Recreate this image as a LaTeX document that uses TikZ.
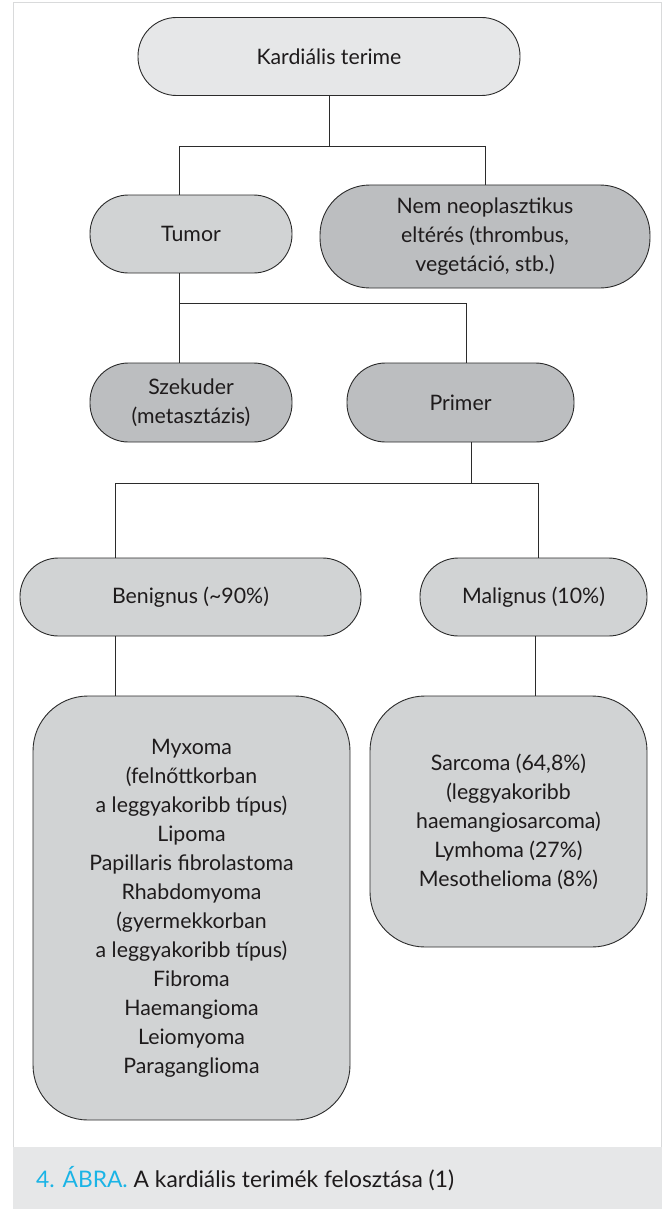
\documentclass[tikz,border=0pt]{standalone}
\usepackage{fontspec}
\setmainfont{Lato}
\usetikzlibrary{calc}
\definecolor{fillA}{HTML}{E6E7E8}
\definecolor{fillB}{HTML}{D1D3D4}
\definecolor{fillC}{HTML}{BCBEC0}
\definecolor{edge}{HTML}{2B2B2B}
\definecolor{txt}{HTML}{1E1B1C}
\definecolor{framegray}{HTML}{D9DADB}
\definecolor{capfill}{HTML}{E6E7E8}
\definecolor{capcyan}{HTML}{1AB4E6}
\begin{document}
\begin{tikzpicture}[x=1pt,y=-1pt,
  box/.style={draw=edge, line width=0.9pt, align=center, inner sep=0pt,
    font=\fontsize{21.3}{29}\selectfont, text=txt},
  pill/.style={box, rounded corners=38.5pt, minimum height=78pt},
  bigbox/.style={box, rounded corners=55pt},
  conn/.style={draw=edge, line width=0.9pt}]
\useasboundingbox (0,0) rectangle (664,1209);
\fill[white] (0,0) rectangle (664,1209);
\draw[framegray, line width=1pt, fill=white] (13,3) rectangle (661,1147);
\fill[capfill] (13,1147) rectangle (662,1209);

% nodes
\node[pill, fill=fillA, minimum width=382pt] (kard) at (329,56.5) {Kardiális terime};
\node[pill, fill=fillB, minimum width=202pt] (tumor) at (191,234) {Tumor};
\node[box, fill=fillC, minimum width=330pt, minimum height=103pt, rounded corners=50pt] (nem) at (485,236.5) {Nem neoplasztikus\\eltérés (thrombus,\\vegetáció, stb.)};
\node[pill, fill=fillC, minimum width=202pt, minimum height=79pt] (szek) at (191,402.5) {Szekuder\\(metasztázis)};
\node[pill, fill=fillC, minimum width=227pt, minimum height=79pt] (primer) at (460.5,402.5) {Primer};
\node[pill, fill=fillB, minimum width=341pt] (benign) at (190.5,597) {Benignus (\textasciitilde90\%)};
\node[pill, fill=fillB, minimum width=227pt] (malign) at (533.5,597) {Malignus (10\%)};
\node[bigbox, fill=fillB, minimum width=317pt, minimum height=424pt] (blist) at (191.5,908) {Myxoma\\(felnőttkorban\\a leggyakoribb típus)\\Lipoma\\Papillaris fibrolastoma\\Rhabdomyoma\\(gyermekkorban\\a leggyakoribb típus)\\Fibroma\\Haemangioma\\Leiomyoma\\Paraganglioma};
\node[bigbox, fill=fillB, minimum width=277pt, minimum height=251pt] (mlist) at (508.5,821.5) {Sarcoma (64,8\%)\\(leggyakoribb\\haemangiosarcoma)\\Lymhoma (27\%)\\Mesothelioma (8\%)};

% connectors
\coordinate (j1) at (329,146);
\coordinate (a1) at (179,146);
\coordinate (b1) at (485,146);
\draw[conn] (kard.south) -- (j1);
\draw[conn] (a1) -- (b1);
\draw[conn] (a1) -- (a1 |- tumor.north);
\draw[conn] (b1) -- (nem.north);

\coordinate (t1) at (179,303);
\coordinate (p1) at (466,303);
\draw[conn] (t1 |- tumor.south) -- (t1 |- szek.north);
\draw[conn] (t1) -- (p1) -- (p1 |- primer.north);

\coordinate (q0) at (471,483);
\coordinate (q1) at (115,483);
\coordinate (q2) at (538,483);
\draw[conn] (q0 |- primer.south) -- (q0);
\draw[conn] (q1) -- (q2);
\draw[conn] (q1) -- (q1 |- benign.north);
\draw[conn] (q2) -- (q2 |- malign.north);

\coordinate (r1) at (115,660);
\coordinate (r2) at (535,660);
\draw[conn] (r1 |- benign.south) -- (r1 |- blist.north);
\draw[conn] (r2 |- malign.south) -- (r2 |- mlist.north);

% caption
\node[anchor=west, inner sep=0pt, text=txt, font=\fontsize{22.8}{26}\selectfont] (cap) at (36,1179)
  {\textcolor{capcyan}{4. ÁBRA.} A kardiális terimék felosztása (1)};
\end{tikzpicture}
\end{document}
